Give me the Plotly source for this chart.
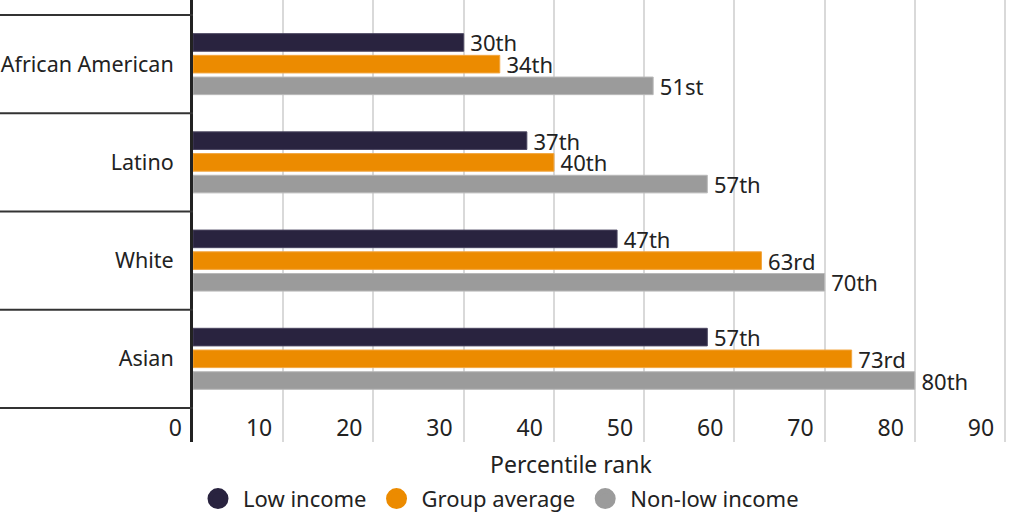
import plotly.graph_objects as go

# Données
groups = ["African American", "Latino", "White", "Asian"]
low_income = [30, 37, 47, 57]
group_average = [34, 40, 63, 73]
non_low_income = [51, 57, 70, 80]
low_labels = ["30th", "37th", "47th", "57th"]
avg_labels = ["34th", "40th", "63rd", "73rd"]
non_low_labels = ["51st", "57th", "70th", "80th"]
x_ticks = [0, 10, 20, 30, 40, 50, 60, 70, 80, 90]

series = [
    ("Low income", low_income, low_labels, "#29233f", "#4a4560"),
    ("Group average", group_average, avg_labels, "#ec8b00", "#f2a640"),
    ("Non-low income", non_low_income, non_low_labels, "#9b9b9b", "#b8b8b8"),
]

font_family = "Noto Sans"
text_color = "#222222"

fig = go.Figure()
for name, vals, labels, color, edge in series:
    fig.add_trace(go.Bar(
        y=groups, x=vals, orientation="h", name=name,
        text=labels, texttemplate="\u2009%{text}",
        textposition="outside", cliponaxis=False, constraintext="none",
        textfont=dict(size=22, color=text_color, family=font_family),
        marker=dict(color=color, line=dict(color=edge, width=1)),
        showlegend=False, hoverinfo="skip",
    ))

# Légende avec des ronds
for name, vals, labels, color, edge in series:
    fig.add_trace(go.Scatter(
        x=[None], y=[None], mode="markers", name=name,
        marker=dict(symbol="circle", size=16, color=color,
                    line=dict(color=color, width=5)),
    ))

# Séparateurs de catégories dans la marge gauche
left_margin = 193
plot_width = 1024 - left_margin
plot_height = 442
for i in range(len(groups) + 1):
    fig.add_shape(type="line", xref="paper", yref="y",
                  x0=-left_margin / plot_width, x1=0,
                  y0=i - 0.5, y1=i - 0.5,
                  line=dict(color="#333333", width=2))

fig.add_annotation(text="Percentile rank", xref="paper", yref="paper",
                   x=(571 - left_margin) / plot_width, y=-22 / plot_height,
                   xanchor="center", yanchor="middle", showarrow=False,
                   font=dict(size=23, color=text_color, family=font_family))

fig.update_layout(
    width=1024, height=512,
    margin=dict(l=left_margin, r=0, t=0, b=512 - plot_height, autoexpand=False),
    plot_bgcolor="white", paper_bgcolor="white",
    barmode="group", bargap=0.337, bargroupgap=0.19,
    font=dict(family=font_family, size=22, color=text_color),
    xaxis=dict(
        range=[0, 92.1], tickvals=x_ticks, showgrid=True,
        gridcolor="#d9d9d9", gridwidth=1.5, zeroline=False,
        showline=False, ticks="", ticklabelposition="outside left",
        ticklabelstandoff=-30, ticklabelshift=-11, automargin=False,
        tickfont=dict(size=23, color=text_color),
    ),
    yaxis=dict(
        type="category", categoryorder="array", categoryarray=groups,
        range=[len(groups) - 0.5 + 34 / 98, -0.5 - 15 / 98],
        showgrid=False, zeroline=False, showline=True, automargin=False,
        linecolor="#222222", linewidth=3, ticks="",
        ticklabelstandoff=12,
        tickfont=dict(size=21.5, color=text_color),
    ),
    legend=dict(
        orientation="h", x=0, xanchor="left", y=-0.081, yanchor="top",
        font=dict(size=22, color=text_color), itemsizing="trace",
        itemwidth=40, bgcolor="rgba(0,0,0,0)",
    ),
)

# pas de marge autour du graphique dans la page, pas de barre d'outils
fig.write_html("out.html", config={"displayModeBar": False},
               post_script="document.body.style.margin='0px';")
